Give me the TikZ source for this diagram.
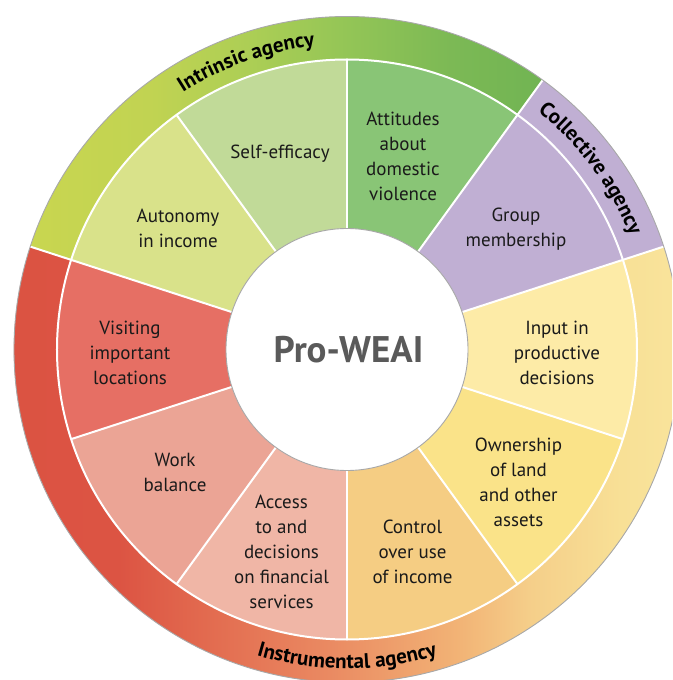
\documentclass[tikz,border=0pt]{standalone}
\usepackage{fontspec}
\setmainfont{PT Sans}
\usetikzlibrary{decorations.text}
\definecolor{segSelf}{HTML}{C1DA98}
\definecolor{segAtt}{HTML}{89C576}
\definecolor{segGroup}{HTML}{C0AFD3}
\definecolor{segInput}{HTML}{FDEBA7}
\definecolor{segOwn}{HTML}{FAE389}
\definecolor{segCtrl}{HTML}{F5CD83}
\definecolor{segAcc}{HTML}{F0B6A6}
\definecolor{segWork}{HTML}{EBA495}
\definecolor{segVisit}{HTML}{E66F64}
\definecolor{segAuto}{HTML}{D9E28A}
\definecolor{bandColl}{HTML}{C0AFD3}
\definecolor{txt}{HTML}{1A1A1A}
\definecolor{proGray}{HTML}{5A5A5A}
\definecolor{rimGray}{HTML}{A8A8A8}
\definecolor{inA}{HTML}{C9D650}
\definecolor{inB}{HTML}{C1D352}
\definecolor{inC}{HTML}{ACCE55}
\definecolor{inD}{HTML}{93C556}
\definecolor{inE}{HTML}{7CB955}
\definecolor{inF}{HTML}{71B453}
\definecolor{isA}{HTML}{DB5242}
\definecolor{isB}{HTML}{DC5443}
\definecolor{isC}{HTML}{E26A4F}
\definecolor{isD}{HTML}{EA8A62}
\definecolor{isE}{HTML}{F2B476}
\definecolor{isF}{HTML}{F5CF8A}
\definecolor{isG}{HTML}{F8E096}
\definecolor{isH}{HTML}{F9E49C}
\pgfdeclarehorizontalshading{intrsh}{100bp}{color(0bp)=(inA); color(25bp)=(inA); color(36.7bp)=(inB); color(46.5bp)=(inC); color(56bp)=(inD); color(66bp)=(inE); color(75bp)=(inF); color(100bp)=(inF)}
\pgfdeclarehorizontalshading{instrsh}{100bp}{color(0bp)=(isA); color(25bp)=(isA); color(35.2bp)=(isB); color(41.2bp)=(isC); color(50bp)=(isD); color(59.25bp)=(isE); color(64.2bp)=(isF); color(70.5bp)=(isG); color(75bp)=(isH); color(100bp)=(isH)}
\newcommand\bandfont{\fontsize{21}{24}\selectfont\bfseries}
\newcommand\sector[3]{\fill[#3] (#1:121) arc[start angle=#1, end angle=#2, radius=121] -- (#2:290) arc[start angle=#2, end angle=#1, radius=290] -- cycle;}
\tikzset{
  seglabel/.style={font=\fontsize{19}{25}\selectfont, text=txt, align=center, inner sep=0pt},
  sepline/.style={white, line width=2pt},
}
\begin{document}
\begin{tikzpicture}[x=1pt,y=1pt]
\useasboundingbox (-347,-330.5) rectangle (325,349.5);
\clip (-347,-330.5) rectangle (325,349.5);
% segments
\sector{90}{126}{segSelf}
\sector{54}{90}{segAtt}
\sector{18}{54}{segGroup}
\sector{-18}{18}{segInput}
\sector{-54}{-18}{segOwn}
\sector{-90}{-54}{segCtrl}
\sector{-126}{-90}{segAcc}
\sector{-162}{-126}{segWork}
\sector{162}{198}{segVisit}
\sector{126}{162}{segAuto}
% bands
\path[shading=intrsh] (54:333) arc[start angle=54, end angle=162, radius=333] -- (162:290) arc[start angle=162, end angle=54, radius=290] -- cycle;
\fill[bandColl] (18:333) arc[start angle=18, end angle=54, radius=333] -- (54:290) arc[start angle=54, end angle=18, radius=290] -- cycle;
\path[shading=instrsh] (162:333) arc[start angle=162, end angle=378, radius=333] -- (378:290) arc[start angle=378, end angle=162, radius=290] -- cycle;
% separators
\foreach \a in {90,54,18,-18,-54,-90,-126,-162,162,126}
  \draw[sepline] (\a:121) -- (\a:290);
\draw[sepline] (0,0) circle[radius=290];
\foreach \a in {162,54,18}
  \draw[sepline] (\a:290) -- (\a:334);
\draw[rimGray, line width=0.9pt] (0,0) circle[radius=333];
\fill[white] (0,0) circle[radius=121];
\draw[rimGray, line width=0.9pt] (0,0) circle[radius=121];
% centre
\node[font=\fontsize{37}{42}\selectfont\bfseries, text=proGray, inner sep=0pt] (title) at (1.5,0) {Pro-WEAI};
% segment labels
\node[seglabel] (self) at (-67,195.5) {Self-efficacy};
\node[seglabel] (att) at (56,193.5) {Attitudes\\about\\domestic\\violence};
\node[seglabel] (group) at (169,120.5) {Group\\membership};
\node[seglabel] (input) at (210,-3) {Input in\\productive\\decisions};
\node[seglabel] (own) at (171.5,-132.5) {Ownership\\of land\\and other\\assets};
\node[seglabel] (ctrl) at (65.5,-202) {Control\\over use\\of income};
\node[seglabel] (acc) at (-65.5,-202.5) {Access\\to and\\decisions\\on financial\\services};
\node[seglabel] (work) at (-172,-123) {Work\\balance};
\node[seglabel] (visit) at (-217,-3) {Visiting\\important\\locations};
\node[seglabel] (auto) at (-169,121.5) {Autonomy\\in income};
% band labels
\path[decorate, decoration={text along path, text align=center, text={|\bandfont|Intrinsic agency}}]
  (160:305) arc[start angle=160, end angle=58.6, radius=305];
\path[decorate, decoration={text along path, text align=center, text={|\bandfont|Collective agency}}]
  (55:305) arc[start angle=55, end angle=18.2, radius=305];
\path[decorate, decoration={text along path, text align=center, text={|\bandfont|Instrumental agency}}]
  (200:319) arc[start angle=200, end angle=340, radius=319];
\end{tikzpicture}
\end{document}
